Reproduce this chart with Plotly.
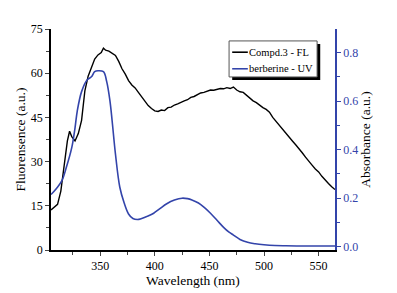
import plotly.graph_objects as go

# Fluorescence (Compd.3) - left axis
fl_wl = [305, 308, 311, 314, 317, 320, 322, 324, 327, 330, 333, 336, 339, 342, 345, 348, 351, 353, 355, 358,
         361, 364, 367, 370, 373, 376, 379, 382, 385, 388, 391, 394, 397, 400, 403, 406, 409, 412, 415, 418,
         421, 424, 427, 430, 433, 436, 439, 442, 445, 448, 451, 454, 457, 460, 463, 466, 469, 472, 475, 478,
         481, 484, 487, 490, 493, 496, 499, 502, 505, 508, 511, 514, 517, 520, 523, 526, 529, 532, 535, 538,
         541, 544, 547, 550, 553, 556, 559, 562, 565]
fl_val = [13.6, 14.5, 15.5, 20.0, 28.0, 37.0, 40.3, 38.5, 37.0, 39.5, 44.0, 54.0, 59.0, 62.0, 64.8, 66.2, 67.0, 68.5, 67.8, 67.5,
          66.8, 66.0, 64.0, 61.5, 59.7, 57.5, 56.0, 55.0, 53.5, 52.0, 50.5, 49.0, 48.0, 47.2, 47.0, 47.5, 47.3, 48.3, 48.5, 49.2,
          49.6, 50.2, 50.6, 51.0, 51.8, 52.1, 52.8, 53.3, 53.5, 53.9, 54.3, 54.2, 54.6, 54.8, 54.7, 55.1, 54.8, 55.3, 54.3, 53.7,
          53.5, 52.5, 51.7, 50.6, 50.0, 49.0, 48.3, 47.7, 46.8, 45.0, 43.6, 42.5, 41.0, 39.7, 38.3, 37.0, 35.7, 34.5, 33.0, 31.5,
          30.0, 28.8, 27.5, 26.5, 25.0, 23.7, 22.6, 21.5, 20.5]

# UV absorbance (berberine) - right axis
uv_wl = [305, 310, 315, 319, 324, 327, 329, 333, 338, 342, 345, 348, 353, 356, 359, 361, 364, 368, 372, 376,
         380, 384, 388, 393, 399, 405, 411, 418, 425, 430, 434, 440, 445, 451, 457, 463, 468, 472, 478, 485,
         492, 500, 510, 520, 535, 550, 565]
uv_val = [0.215, 0.24, 0.272, 0.326, 0.408, 0.49, 0.558, 0.639, 0.687, 0.700, 0.721, 0.725, 0.721, 0.68, 0.60, 0.517,
          0.382, 0.245, 0.18, 0.135, 0.116, 0.112, 0.116, 0.125, 0.138, 0.158, 0.177, 0.192, 0.200, 0.198, 0.193, 0.18,
          0.163, 0.138, 0.109, 0.08, 0.06, 0.048, 0.03, 0.018, 0.012, 0.008, 0.005, 0.004, 0.003, 0.003, 0.003]

series_names = ["Compd.3 - FL", "berberine - UV"]

BLUE = "#3344AA"
FONT = "Liberation Serif"
TICKFONT = dict(family=FONT, size=12, color="black")
TITLEFONT = dict(family=FONT, size=13.5, color="black")

fig = go.Figure()
fig.add_trace(go.Scatter(x=fl_wl, y=fl_val, mode="lines", name=series_names[0], showlegend=False,
                         line=dict(color="black", width=1.4)))
fig.add_trace(go.Scatter(x=uv_wl, y=uv_val, mode="lines", name=series_names[1], yaxis="y2", showlegend=False,
                         line=dict(color=BLUE, width=1.6, shape="spline")))

# the page places the figure 8px from the top-left corner, so size it to the remaining window
fig.update_layout(
    width=389, height=285,
    margin=dict(l=43, r=62, t=21, b=43),
    paper_bgcolor="white", plot_bgcolor="white",
    font=dict(family=FONT, size=12, color="black"),
    xaxis=dict(range=[305, 565], tick0=300, dtick=50, ticks="outside", ticklen=4, automargin=False,
               showline=True, linecolor="black", linewidth=1.5, showgrid=False, zeroline=False,
               tickfont=TICKFONT,
               minor=dict(ticks="outside", ticklen=3, dtick=25, tick0=300),
               title=dict(text="Wavelength (nm)", font=TITLEFONT, standoff=1)),
    xaxis2=dict(range=[305, 565], overlaying="x", side="top", tick0=300, dtick=50, ticks="inside", ticklen=4,
                showline=True, linecolor="black", linewidth=1.5, showticklabels=False, showgrid=False,
                zeroline=False, automargin=False, minor=dict(ticks="inside", ticklen=3, dtick=25, tick0=300)),
    yaxis=dict(range=[0, 75], dtick=15, ticks="outside", ticklen=4, showline=True, linecolor="black",
               linewidth=1.5, showgrid=False, zeroline=False, automargin=False, tickfont=TICKFONT,
               minor=dict(ticks="outside", ticklen=3, dtick=7.5),
               title=dict(text="Fluorensence (a.u.)", font=TITLEFONT, standoff=2)),
    yaxis2=dict(range=[-0.0135, 0.897], overlaying="y", side="right", dtick=0.2, tick0=0, tickformat=".1f",
                ticks="outside", ticklen=4, tickcolor=BLUE, showline=True, linecolor=BLUE, linewidth=1.5,
                showgrid=False, zeroline=False, automargin=False,
                tickfont=dict(family=FONT, size=12, color=BLUE),
                minor=dict(ticks="outside", ticklen=3, dtick=0.1, tickcolor=BLUE),
                title=dict(text="Absorbance (a.u.)", font=TITLEFONT, standoff=2)),
    showlegend=False,
)

# hand-drawn legend box (with drop shadow) as in the original figure
lx0, lx1, ly0, ly1 = 0.627, 0.937, 0.783, 0.946
fig.add_shape(type="rect", xref="paper", yref="paper", x0=lx0 + 0.011, x1=lx1 + 0.011, y0=ly0 - 0.014,
              y1=ly1 - 0.014, fillcolor="black", line=dict(width=0), layer="above")
fig.add_shape(type="rect", xref="paper", yref="paper", x0=lx0, x1=lx1, y0=ly0, y1=ly1,
              fillcolor="white", line=dict(color="#555555", width=1), layer="above")
for i, (name, col) in enumerate(zip(series_names, ["black", BLUE])):
    yy = 0.895 - i * 0.075
    fig.add_shape(type="line", xref="paper", yref="paper", x0=0.638, x1=0.693, y0=yy, y1=yy,
                  line=dict(color=col, width=1.6), layer="above")
    fig.add_annotation(x=0.693, y=yy, xref="paper", yref="paper", text=name, showarrow=False,
                       xanchor="left", yanchor="middle", xshift=-1,
                       font=dict(family=FONT, size=10.5, color="black"))

fig.write_html("out.html")
